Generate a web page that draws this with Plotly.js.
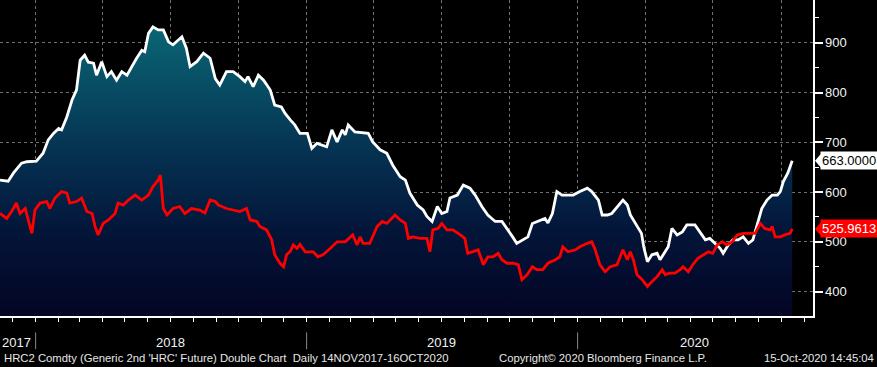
<!DOCTYPE html>
<html><head><meta charset="utf-8">
<script src="https://cdn.plot.ly/plotly-3.0.1.min.js"></script>
<style>html,body{margin:0;padding:0;background:#000;}#chart{width:877px;height:367px;}</style>
</head><body><div id="chart"></div>
<script>
// ---- data ----
const whiteDates = ['2017-11-14','2017-11-25','2017-12-02','2017-12-13','2017-12-20','2018-01-02','2018-01-11','2018-01-18','2018-01-25','2018-02-01',
'2018-02-05','2018-02-12','2018-02-19','2018-02-25','2018-03-02','2018-03-08','2018-03-13','2018-03-20','2018-03-24','2018-03-31',
'2018-04-07','2018-04-13','2018-04-20','2018-04-27','2018-05-04','2018-05-10','2018-05-17','2018-05-24','2018-05-28','2018-06-02',
'2018-06-08','2018-06-15','2018-06-22','2018-06-29','2018-07-05','2018-07-17','2018-07-23','2018-07-28','2018-08-06','2018-08-15',
'2018-08-24','2018-08-31','2018-09-06','2018-09-15','2018-09-24','2018-10-03','2018-10-10','2018-10-14','2018-10-21','2018-10-28',
'2018-11-04','2018-11-13','2018-11-19','2018-11-28','2018-12-03','2018-12-10','2018-12-16','2018-12-23','2019-01-02','2019-01-08',
'2019-01-15','2019-01-28','2019-02-04','2019-02-11','2019-02-18','2019-02-22','2019-02-26','2019-03-07','2019-03-25','2019-03-31',
'2019-04-10','2019-04-19','2019-04-27','2019-05-07','2019-05-14','2019-05-20','2019-05-30','2019-06-07','2019-06-12','2019-06-19',
'2019-06-26','2019-07-02','2019-07-09','2019-07-13','2019-07-23','2019-07-31','2019-08-09','2019-08-16','2019-08-25','2019-09-02',
'2019-09-12','2019-09-21','2019-09-28','2019-10-05','2019-10-11','2019-10-19','2019-10-26','2019-11-01','2019-11-09','2019-11-18',
'2019-11-22','2019-11-28','2019-12-04','2019-12-11','2019-12-18','2019-12-26','2020-01-04','2020-01-14','2020-01-20','2020-01-24',
'2020-01-29','2020-02-03','2020-02-10','2020-02-16','2020-02-23','2020-02-27','2020-03-02','2020-03-08','2020-03-12','2020-03-16',
'2020-03-21','2020-03-27','2020-03-30','2020-04-04','2020-04-10','2020-04-17','2020-04-21','2020-04-25','2020-05-02','2020-05-07',
'2020-05-14','2020-05-21','2020-05-27','2020-06-07','2020-06-14','2020-06-21','2020-06-27','2020-07-04','2020-07-11','2020-07-15',
'2020-07-22','2020-07-28','2020-08-04','2020-08-11','2020-08-18','2020-08-24','2020-08-31','2020-09-05','2020-09-12','2020-09-19',
'2020-09-26','2020-09-30','2020-10-04','2020-10-10','2020-10-16'];
const whiteValues = [624,622,638,658,661,662,678,705,718,728,
725,751,785,805,865,875,861,859,835,862,
832,842,825,842,835,852,869,885,882,919,
932,926,926,902,896,912,889,852,862,879,
869,828,815,842,842,832,822,832,812,835,
825,805,775,771,758,745,735,718,718,688,
698,691,725,701,725,715,735,721,718,701,
685,678,654,631,624,598,574,564,551,541,
571,557,561,588,594,614,608,594,571,554,
541,541,527,511,497,504,510,537,541,547,
538,557,601,594,594,594,601,608,601,594,
584,554,554,557,571,577,584,574,554,544,
531,517,490,460,474,477,464,474,490,527,
514,520,534,534,520,504,507,497,487,477,
494,504,504,510,497,504,541,567,584,594,
594,601,621,638,663];

const redDates = ['2017-11-14','2017-11-23','2017-11-30','2017-12-06','2017-12-11','2017-12-18','2017-12-22','2017-12-27','2017-12-31','2018-01-07',
'2018-01-16','2018-01-20','2018-01-27','2018-02-05','2018-02-12','2018-02-16','2018-02-25','2018-03-04','2018-03-11','2018-03-18',
'2018-03-22','2018-03-26','2018-04-02','2018-04-09','2018-04-18','2018-04-22','2018-04-29','2018-05-06','2018-05-15','2018-05-24',
'2018-06-02','2018-06-08','2018-06-15','2018-06-18','2018-06-22','2018-06-27','2018-07-05','2018-07-14','2018-07-21','2018-07-30',
'2018-08-10','2018-08-17','2018-08-24','2018-08-31','2018-09-04','2018-09-15','2018-09-24','2018-10-03','2018-10-12','2018-10-17',
'2018-10-26','2018-10-30','2018-11-08','2018-11-15','2018-11-19','2018-11-26','2018-12-01','2018-12-05','2018-12-10','2018-12-14',
'2018-12-19','2018-12-23','2018-12-30','2019-01-10','2019-01-16','2019-01-23','2019-02-02','2019-02-11','2019-02-22','2019-03-04',
'2019-03-10','2019-03-14','2019-03-18','2019-03-27','2019-04-06','2019-04-13','2019-04-19','2019-04-27','2019-04-30','2019-05-07',
'2019-05-14','2019-05-18','2019-05-24','2019-06-03','2019-06-12','2019-06-16','2019-06-20','2019-06-27','2019-07-02','2019-07-09',
'2019-07-17','2019-07-27','2019-08-02','2019-08-06','2019-08-13','2019-08-20','2019-08-27','2019-09-02','2019-09-09','2019-09-16',
'2019-09-21','2019-09-28','2019-10-06','2019-10-13','2019-10-18','2019-10-25','2019-11-01','2019-11-07','2019-11-15','2019-11-22',
'2019-12-02','2019-12-08','2019-12-12','2019-12-19','2019-12-29','2020-01-04','2020-01-14','2020-01-20','2020-01-24','2020-01-31',
'2020-02-07','2020-02-14','2020-02-23','2020-02-27','2020-03-02','2020-03-08','2020-03-12','2020-03-16','2020-03-21','2020-03-28',
'2020-04-04','2020-04-10','2020-04-17','2020-04-24','2020-04-28','2020-05-04','2020-05-11','2020-05-18','2020-05-22','2020-05-29',
'2020-06-04','2020-06-11','2020-06-18','2020-06-25','2020-07-01','2020-07-07','2020-07-14','2020-07-20','2020-07-27','2020-08-03',
'2020-08-11','2020-08-20','2020-08-27','2020-09-03','2020-09-09','2020-09-16','2020-09-19','2020-09-23','2020-09-30','2020-10-06',
'2020-10-13','2020-10-16'];
const redValues = [557,547,562,578,557,567,544,517,564,578,
581,567,588,601,598,578,581,588,561,557,
531,514,537,544,557,578,574,584,594,584,
594,611,624,634,567,554,567,571,557,567,
564,558,584,581,574,567,564,561,567,544,
541,531,524,504,474,457,450,474,481,494,
487,495,480,480,470,474,487,500,500,514,
494,510,497,497,531,541,537,551,554,544,
537,507,510,507,507,480,524,527,537,524,
524,514,507,477,480,484,454,470,470,477,
464,457,457,454,424,434,450,444,444,457,
464,470,490,480,484,490,497,500,487,454,
440,450,454,470,484,464,480,464,434,424,
410,420,430,444,434,437,437,444,450,440,
454,467,474,480,477,494,500,494,500,514,
517,517,517,537,527,524,531,510,510,514,
517,525.9613];

const yearLabels = ['2017','2018','2019','2020'];
const xRange = ['2017-11-14','2020-11-13'];
const yRange = [351, 986];
const footerLeft = "HRC2 Comdty (Generic 2nd 'HRC' Future) Double Chart  Daily 14NOV2017-16OCT2020";
const footerMid = "Copyright\u00A9 2020 Bloomberg Finance L.P.";
const footerRight = "15-Oct-2020 14:45:04";

// ---- drawing ----
const FONT = 'Liberation Sans, Arial, sans-serif';
const plotW = 813, plotH = 316;

const traces = [
  {x: whiteDates, y: whiteValues, type:'scatter', mode:'lines', fill:'tozeroy',
   line:{color:'#ffffff', width:2.8},
   fillgradient:{type:'vertical', start: yRange[0], stop: 935,
     colorscale:[[0,'rgb(4,4,36)'],[0.3,'rgb(3,22,58)'],[0.55,'rgb(5,48,80)'],[1,'rgb(10,102,116)']]},
   hoverinfo:'skip'},
  {x: redDates, y: redValues, type:'scatter', mode:'lines',
   line:{color:'#ff0000', width:2.8}, hoverinfo:'skip'}
];

const annotations = [];
const shapes = [];
const rs = new Date(xRange[0]).getTime(), re = new Date(xRange[1]).getTime();
yearLabels.forEach((yr, i) => {
  const ys = Math.max(rs, new Date(yr + '-01-01').getTime());
  const ye = Math.min(re, new Date((+yr + 1) + '-01-01').getTime());
  const first = i === 0;
  annotations.push({xref:'x', yref:'paper', x: first ? xRange[0] : new Date((ys+ye)/2).toISOString().slice(0,10),
    y: -0.084, xanchor: first ? 'left' : 'center', yanchor:'middle', showarrow:false, text: yr,
    font:{family:FONT, size:13, color:'#f2f2f2'}});
  if (!first) {
    shapes.push({type:'line', xref:'x', yref:'paper', x0: yr+'-01-01', x1: yr+'-01-01', y0:-0.052, y1:-0.105,
      line:{color:'#8a8a8a', width:1}});
  }
});
const FOOT = {family:FONT, size:11.3, color:'#e6e6e6'};
annotations.push({xref:'paper', yref:'paper', x: 2/plotW, y:-0.133, xanchor:'left', yanchor:'middle', showarrow:false,
  text: footerLeft.replace('  ', ' \u00A0'), font: FOOT});
annotations.push({xref:'paper', yref:'paper', x: 497/plotW, y:-0.133, xanchor:'left', yanchor:'middle', showarrow:false,
  text: footerMid, font: FOOT});
annotations.push({xref:'paper', yref:'paper', x: 876/plotW, y:-0.133, xanchor:'right', yanchor:'middle', showarrow:false,
  text: footerRight, font: FOOT});

// last-value tags
const pxY = (yRange[1]-yRange[0]) / plotH;
function tag(val, bg, fg) {
  annotations.push({xref:'paper', yref:'y', x: 1, y: val, xanchor:'left', yanchor:'middle', xshift: 7,
    showarrow:false, text: val.toFixed(4), bgcolor: bg, borderpad: 1,
    font:{family:FONT, size:13, color: fg}});
  const tip = 1 + 2/plotW, base = 1 + 8/plotW;
  shapes.push({type:'path', xref:'paper', yref:'y', layer:'above', fillcolor: bg, line:{width:0},
    path: `M ${tip},${val} L ${base},${val + 7*pxY} L ${base},${val - 7*pxY} Z`});
}
tag(whiteValues[whiteValues.length-1], '#ffffff', '#000000');
tag(redValues[redValues.length-1], '#ff0000', '#ffffff');

const layout = {
  width: 877, height: 367,
  margin:{l:0, r:64, t:0, b:51, pad:0},
  paper_bgcolor:'#000000', plot_bgcolor:'#000000',
  showlegend:false,
  xaxis:{type:'date', range:xRange, showgrid:true, gridcolor:'#707070', griddash:'3px,3px', gridwidth:1,
    dtick:'M3', tick0:'2018-01-01', ticks:'outside', ticklen:4, tickcolor:'#ffffff', tickwidth:1,
    showticklabels:false, showline:true, linecolor:'#ffffff', linewidth:1.5, zeroline:false, fixedrange:true,
    minor:{dtick:'M1', tick0:'2018-01-01', ticks:'outside', ticklen:4, tickcolor:'#ffffff', tickwidth:1, showgrid:false}},
  yaxis:{side:'right', range:yRange, dtick:100, tick0:0, showgrid:true, gridcolor:'#707070', griddash:'3px,3px', gridwidth:1,
    ticks:'outside', ticklen:8, tickwidth:2, tickcolor:'#ffffff',
    tickfont:{family:FONT, size:13, color:'#f4f4f4'},
    showline:true, linecolor:'#ffffff', linewidth:1.5, zeroline:false, fixedrange:true,
    minor:{dtick:50, tick0:0, ticks:'outside', ticklen:4, tickcolor:'#ffffff', tickwidth:1, showgrid:false}},
  annotations: annotations,
  shapes: shapes
};

Plotly.newPlot('chart', traces, layout, {staticPlot:true, displayModeBar:false});
</script></body></html>
